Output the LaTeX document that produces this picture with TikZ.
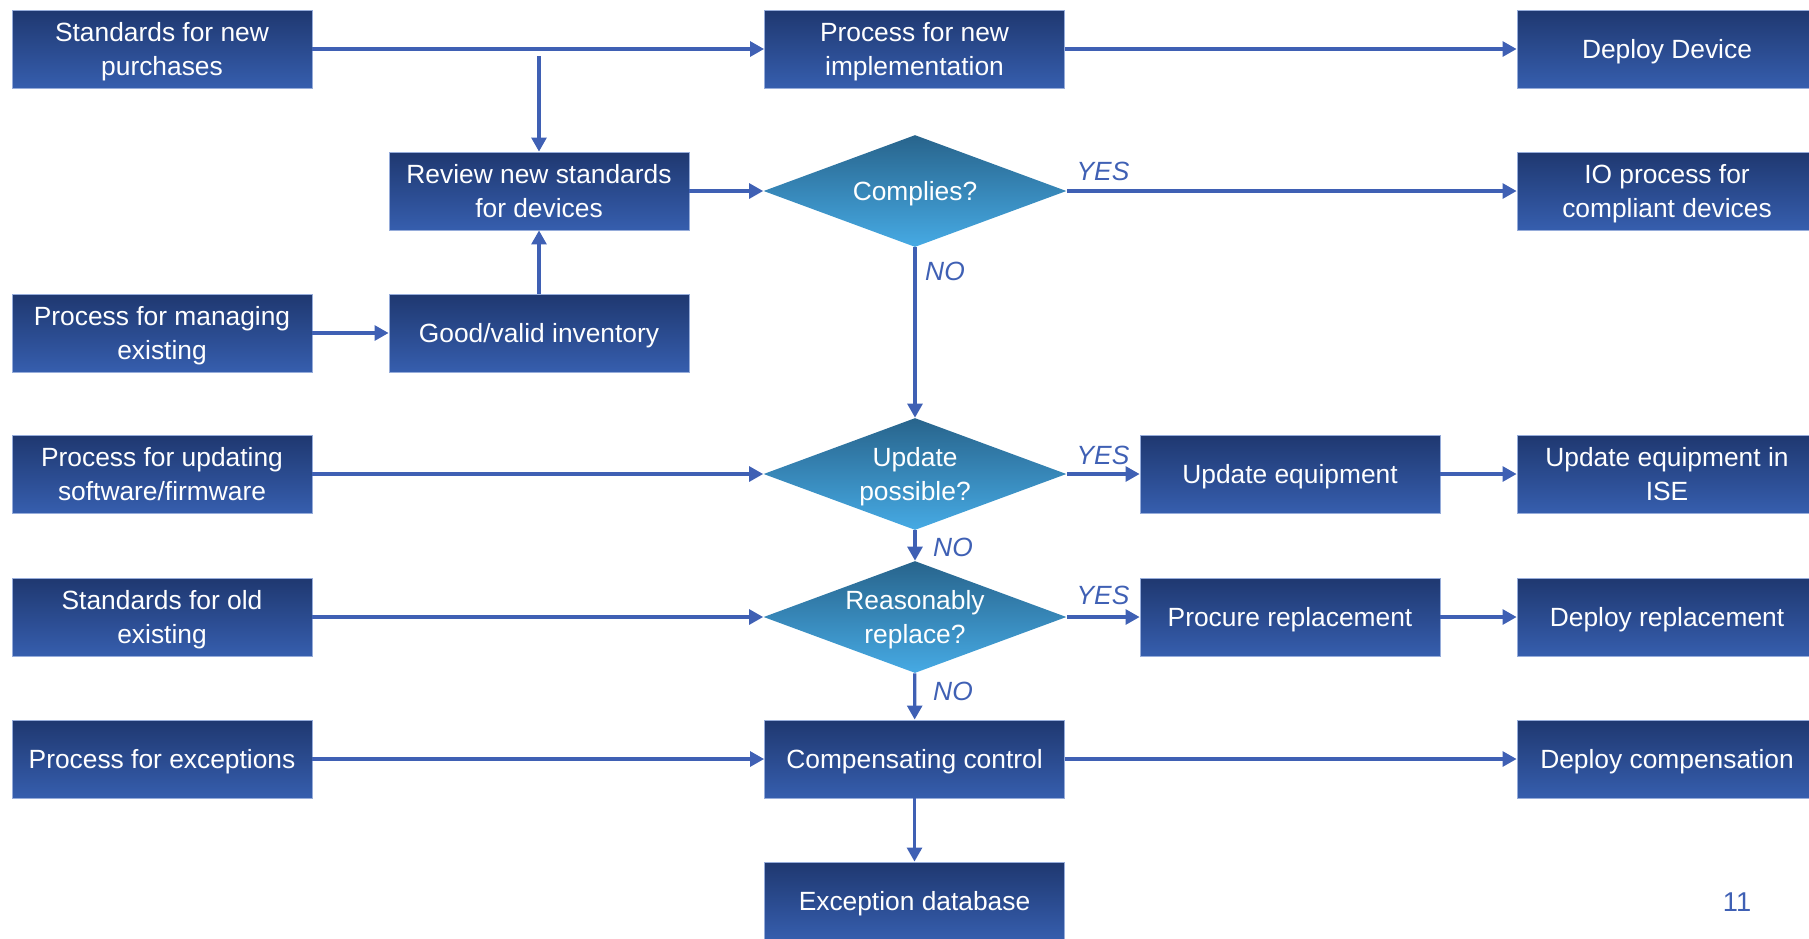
\documentclass[tikz,border=0pt]{standalone}
\usepackage{fontspec}
\setmainfont{Liberation Sans}
\usepackage{xcolor}
\usetikzlibrary{arrows.meta,shapes.geometric}
\definecolor{boxtop}{RGB}{31,56,112}
\definecolor{boxbot}{RGB}{54,94,174}
\definecolor{boxedge}{RGB}{150,172,218}
\definecolor{dectop}{RGB}{40,100,140}
\definecolor{decbot}{RGB}{70,170,228}
\definecolor{flow}{RGB}{63,96,180}
\tikzset{
	procbox/.style={draw=boxedge,line width=0.5pt,top color=boxtop,bottom color=boxbot,text=white,align=center,minimum width=6cm,minimum height=1.56cm,inner sep=0pt,text depth=0pt,font=\fontsize{15}{19}\selectfont},
	decision/.style={diamond,aspect=2.7,top color=dectop,bottom color=decbot,text=white,align=center,minimum width=6.06cm,minimum height=2.24cm,inner sep=0pt,text depth=0pt,font=\fontsize{15}{19}\selectfont},
	flowline/.style={draw=flow,line width=1.8pt,->},
	answer/.style={text=flow,font=\fontsize{15}{19}\selectfont\itshape},
}

\begin{document}
\begin{tikzpicture}[x=0.02cm,y=-0.02cm,>={Triangle[length=8pt,width=8.5pt]}]
			\useasboundingbox (0,0) rectangle (1809,938);
			
			\node[procbox] (stdnew) at (162,49) {Standards for new\\purchases};
			\node[procbox] (implement) at (914.5,49) {Process for new\\implementation};
			\node[procbox] (deploydev) at (1667,49) {Deploy Device};
			
			\node[procbox] (review) at (539,191) {Review new standards\\for devices};
			\node[decision] (complies) at (915,191) {Complies?};
			\node[procbox] (ioproc) at (1667,191) {IO process for\\compliant devices};
			
			\node[procbox] (managing) at (162,333) {Process for managing\\existing};
			\node[procbox] (inventory) at (539,333) {Good/valid inventory};
			
			\node[procbox] (updating) at (162,474) {Process for updating\\software/firmware};
			\node[decision] (updposs) at (915,474) {Update\\possible?};
			\node[procbox] (updequip) at (1290,474) {Update equipment};
			\node[procbox] (updise) at (1667,474) {Update equipment in\\ISE};
			
			\node[procbox] (stdold) at (162,617) {Standards for old\\existing};
			\node[decision] (replace) at (915,617) {Reasonably\\replace?};
			\node[procbox] (procure) at (1290,617) {Procure replacement};
			\node[procbox] (deployrep) at (1667,617) {Deploy replacement};
			
			\node[procbox] (exceptions) at (162,759) {Process for exceptions};
			\node[procbox] (compensate) at (914.5,759) {Compensating control};
			\node[procbox] (deploycomp) at (1667,759) {Deploy compensation};
			
			\node[procbox] (excdb) at (914.5,901) {Exception database};
			
			\coordinate (split) at (539,56);
			
			\draw[flowline] (stdnew) -- (implement);
			\draw[flowline] (implement) -- (deploydev);
			\draw[flowline] (split) -- (review);
			\draw[flowline] (review) -- (complies);
			\draw[flowline] (complies) -- (ioproc);
			\draw[flowline] (managing) -- (inventory);
			\draw[flowline] (inventory) -- (review);
			\draw[flowline] (complies) -- (updposs);
			\draw[flowline] (updating) -- (updposs);
			\draw[flowline] (updposs) -- (updequip);
			\draw[flowline] (updequip) -- (updise);
			\draw[flowline] (updposs) -- (replace);
			\draw[flowline] (stdold) -- (replace);
			\draw[flowline] (replace) -- (procure);
			\draw[flowline] (procure) -- (deployrep);
			\draw[flowline] (replace) -- (compensate);
			\draw[flowline] (exceptions) -- (compensate);
			\draw[flowline] (compensate) -- (deploycomp);
			\draw[flowline] (compensate) -- (excdb);
			
			\node[answer] (yes1) at (1103,171) {YES};
			\node[answer] (no1) at (945,271) {NO};
			\node[answer] (yes2) at (1103,455) {YES};
			\node[answer] (no2) at (953,547) {NO};
			\node[answer] (yes3) at (1103,595) {YES};
			\node[answer] (no3) at (953,691) {NO};
			
			\node[text=flow,font=\fontsize{15.5}{19}\selectfont] (pagenum) at (1737,902) {11};
		\end{tikzpicture}
\end{document}
